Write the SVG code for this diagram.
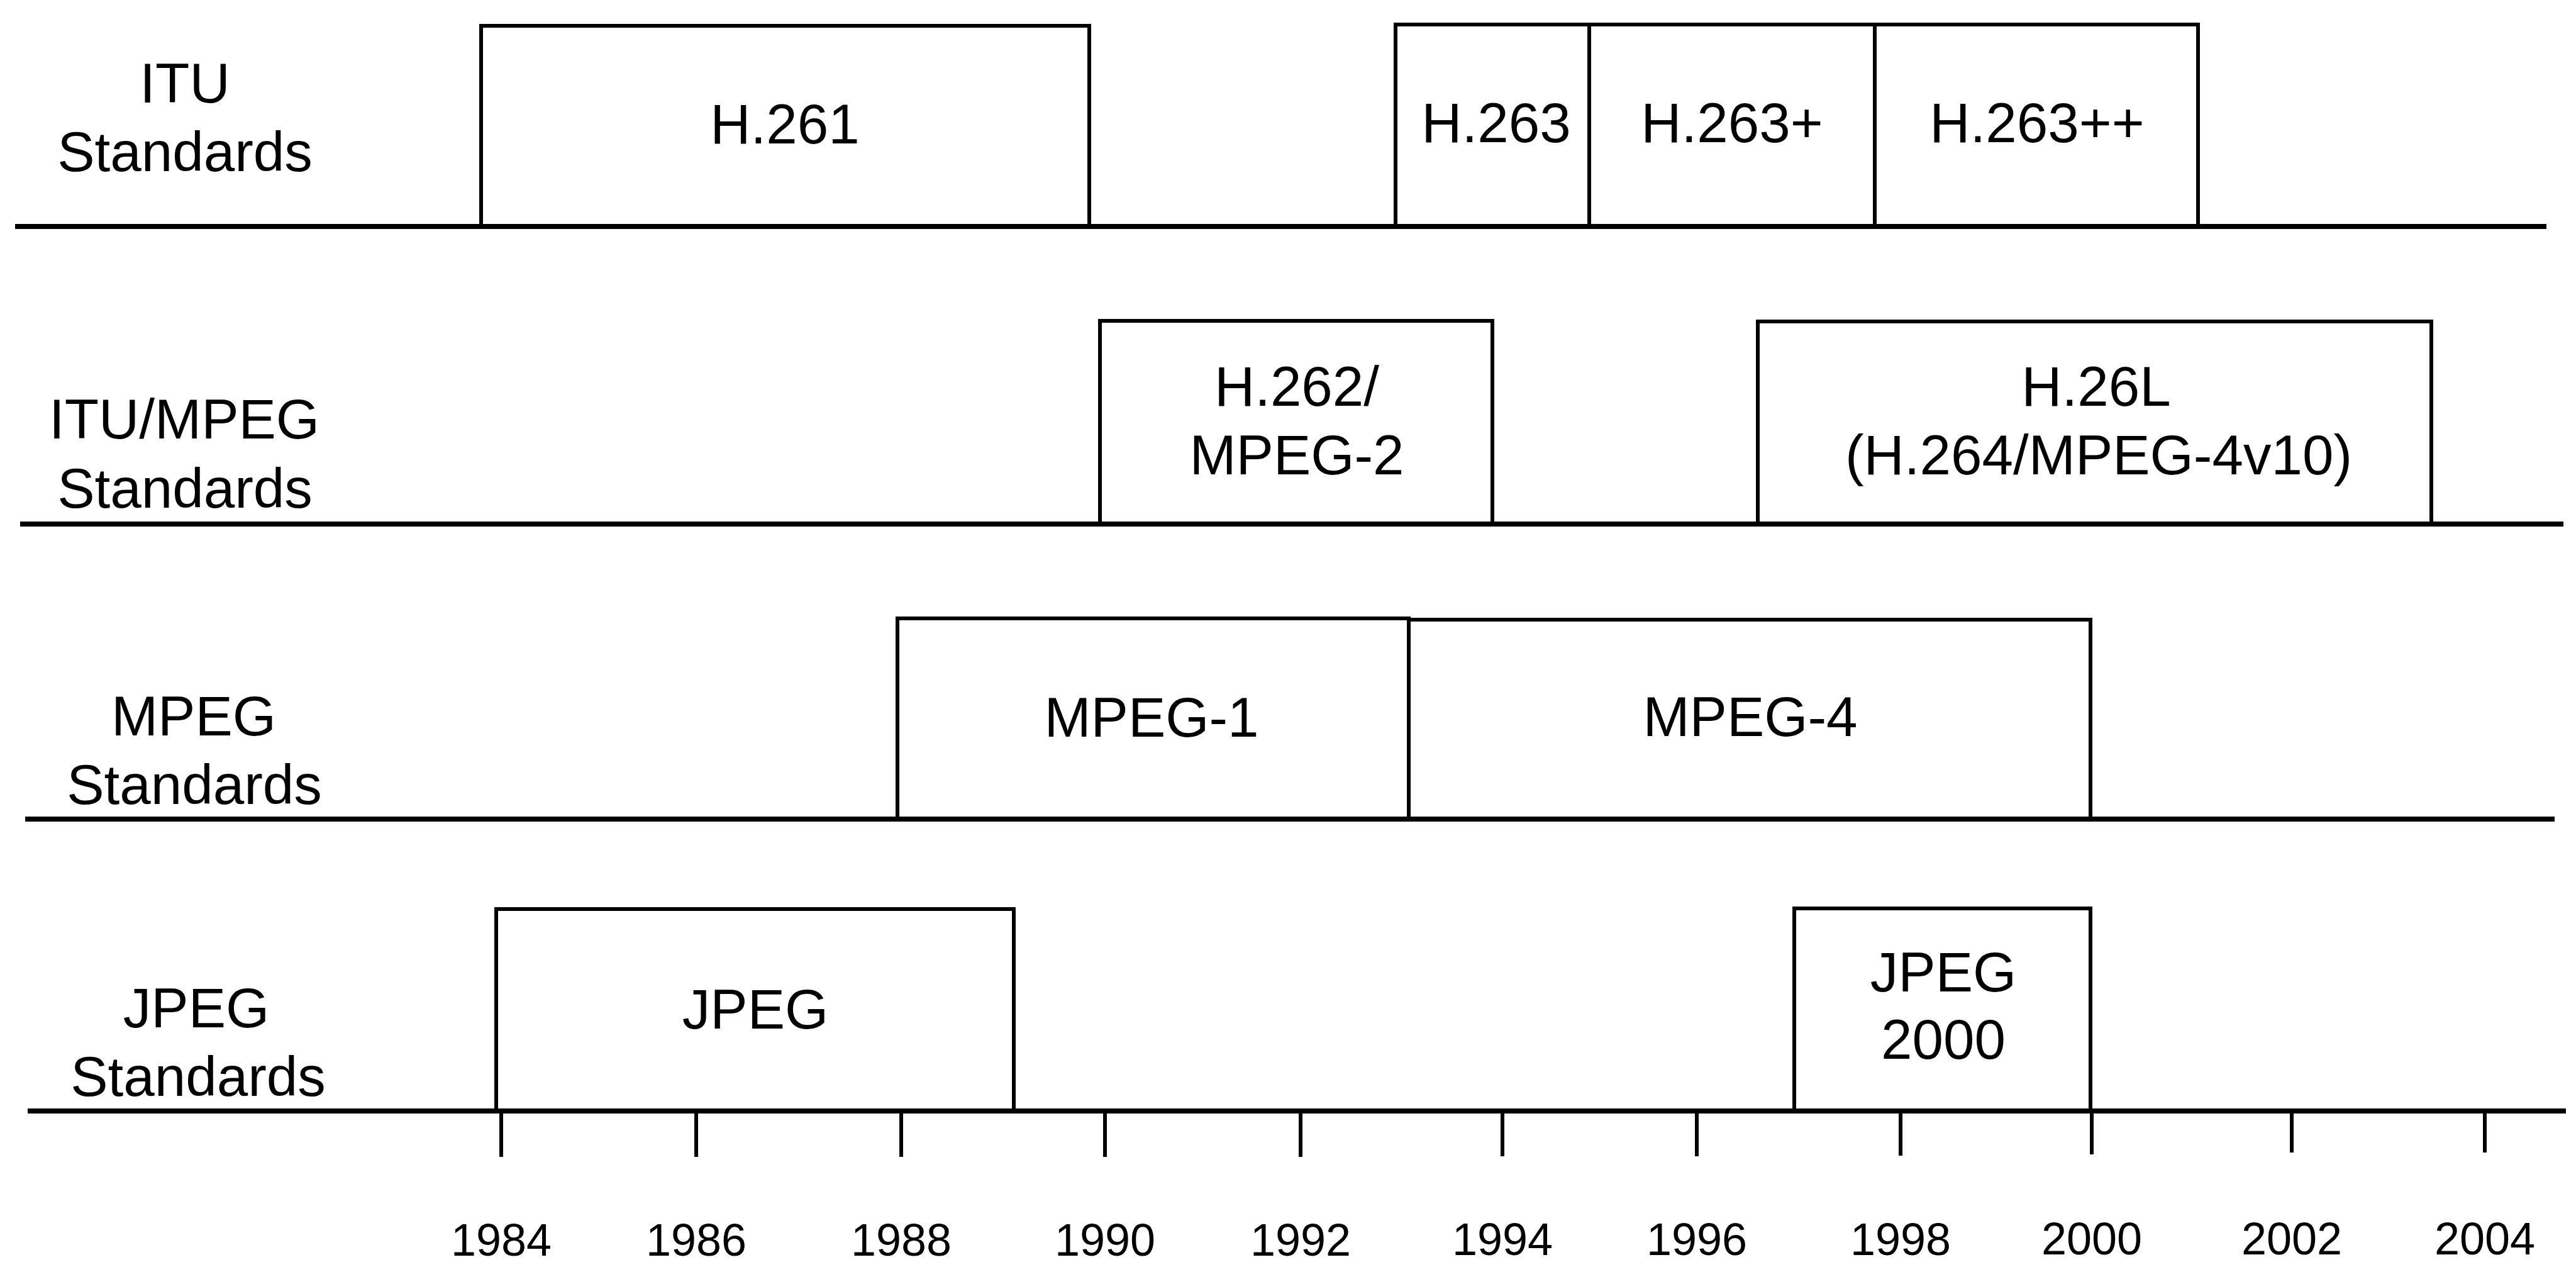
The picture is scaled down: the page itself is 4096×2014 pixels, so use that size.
<svg xmlns="http://www.w3.org/2000/svg" width="4096" height="2014" viewBox="0 0 4096 2014">
<style>
.bg{fill:#fff}
.box{fill:#fff;stroke:#000;stroke-width:6}
.base{stroke:#000;stroke-width:8;fill:none}
.tick{stroke:#000;stroke-width:6;fill:none}
text{font-family:"Liberation Sans",Arial,sans-serif;fill:#000;text-anchor:middle}
.lbl{font-size:89px}
.yr{font-size:72px}
</style>
<rect class="bg" x="0" y="0" width="4096" height="2014"/>
<g id="row-labels">
<text class="lbl" x="294" y="163">ITU</text>
<text class="lbl" x="294" y="272">Standards</text>
<text class="lbl" x="293" y="697">ITU/MPEG</text>
<text class="lbl" x="294" y="807">Standards</text>
<text class="lbl" x="308" y="1169">MPEG</text>
<text class="lbl" x="309" y="1278">Standards</text>
<text class="lbl" x="312" y="1633">JPEG</text>
<text class="lbl" x="315" y="1742">Standards</text>
</g>
<g id="h261"><rect class="box" x="765" y="41" width="967" height="319"/><text class="lbl" x="1248" y="228">H.261</text></g>
<g id="h263"><rect class="box" x="2219" y="39" width="308" height="321"/><text class="lbl" x="2379" y="226">H.263</text></g>
<g id="h263p"><rect class="box" x="2527" y="39" width="454" height="321"/><text class="lbl" x="2754" y="226">H.263+</text></g>
<g id="h263pp"><rect class="box" x="2981" y="39" width="514" height="321"/><text class="lbl" x="3239" y="226">H.263++</text></g>
<g id="h262"><rect class="box" x="1749" y="510" width="624" height="323"/><text class="lbl" x="2062" y="645">H.262/</text><text class="lbl" x="2062" y="754">MPEG-2</text></g>
<g id="h26l"><rect class="box" x="2795" y="511" width="1071" height="322"/><text class="lbl" x="3333" y="645">H.26L</text><text class="lbl" x="3337" y="754">(H.264/MPEG-4v10)</text></g>
<g id="mpeg1"><rect class="box" x="1427" y="983" width="813" height="319"/><text class="lbl" x="1831" y="1171">MPEG-1</text></g>
<g id="mpeg4"><rect class="box" x="2240" y="985" width="1084" height="317"/><text class="lbl" x="2783" y="1170">MPEG-4</text></g>
<g id="jpeg"><rect class="box" x="789" y="1445" width="823" height="321"/><text class="lbl" x="1201" y="1635">JPEG</text></g>
<g id="jpeg2000"><rect class="box" x="2853" y="1444" width="471" height="322"/><text class="lbl" x="3090" y="1576">JPEG</text><text class="lbl" x="3090" y="1683">2000</text></g>
<g id="connectors">
<line class="base" x1="24" y1="360" x2="4049" y2="360"/>
<line class="base" x1="32" y1="833" x2="4076" y2="833"/>
<line class="base" x1="40" y1="1302" x2="4062" y2="1302"/>
<line class="base" x1="44" y1="1766" x2="4080" y2="1766"/>
<line class="tick" x1="797" y1="1766" x2="797" y2="1839"/>
<line class="tick" x1="1107" y1="1766" x2="1107" y2="1839"/>
<line class="tick" x1="1433" y1="1766" x2="1433" y2="1839"/>
<line class="tick" x1="1757" y1="1766" x2="1757" y2="1839"/>
<line class="tick" x1="2068" y1="1766" x2="2068" y2="1839"/>
<line class="tick" x1="2389" y1="1766" x2="2389" y2="1838"/>
<line class="tick" x1="2698" y1="1766" x2="2698" y2="1838"/>
<line class="tick" x1="3022" y1="1766" x2="3022" y2="1837"/>
<line class="tick" x1="3326" y1="1766" x2="3326" y2="1835"/>
<line class="tick" x1="3644" y1="1766" x2="3644" y2="1832"/>
<line class="tick" x1="3951" y1="1766" x2="3951" y2="1832"/>
</g>
<g id="years">
<text class="yr" x="797" y="1996">1984</text>
<text class="yr" x="1107" y="1996">1986</text>
<text class="yr" x="1433" y="1996">1988</text>
<text class="yr" x="1757" y="1996">1990</text>
<text class="yr" x="2068" y="1996">1992</text>
<text class="yr" x="2389" y="1995">1994</text>
<text class="yr" x="2698" y="1995">1996</text>
<text class="yr" x="3022" y="1995">1998</text>
<text class="yr" x="3326" y="1994">2000</text>
<text class="yr" x="3644" y="1994">2002</text>
<text class="yr" x="3951" y="1994">2004</text>
</g>
</svg>
